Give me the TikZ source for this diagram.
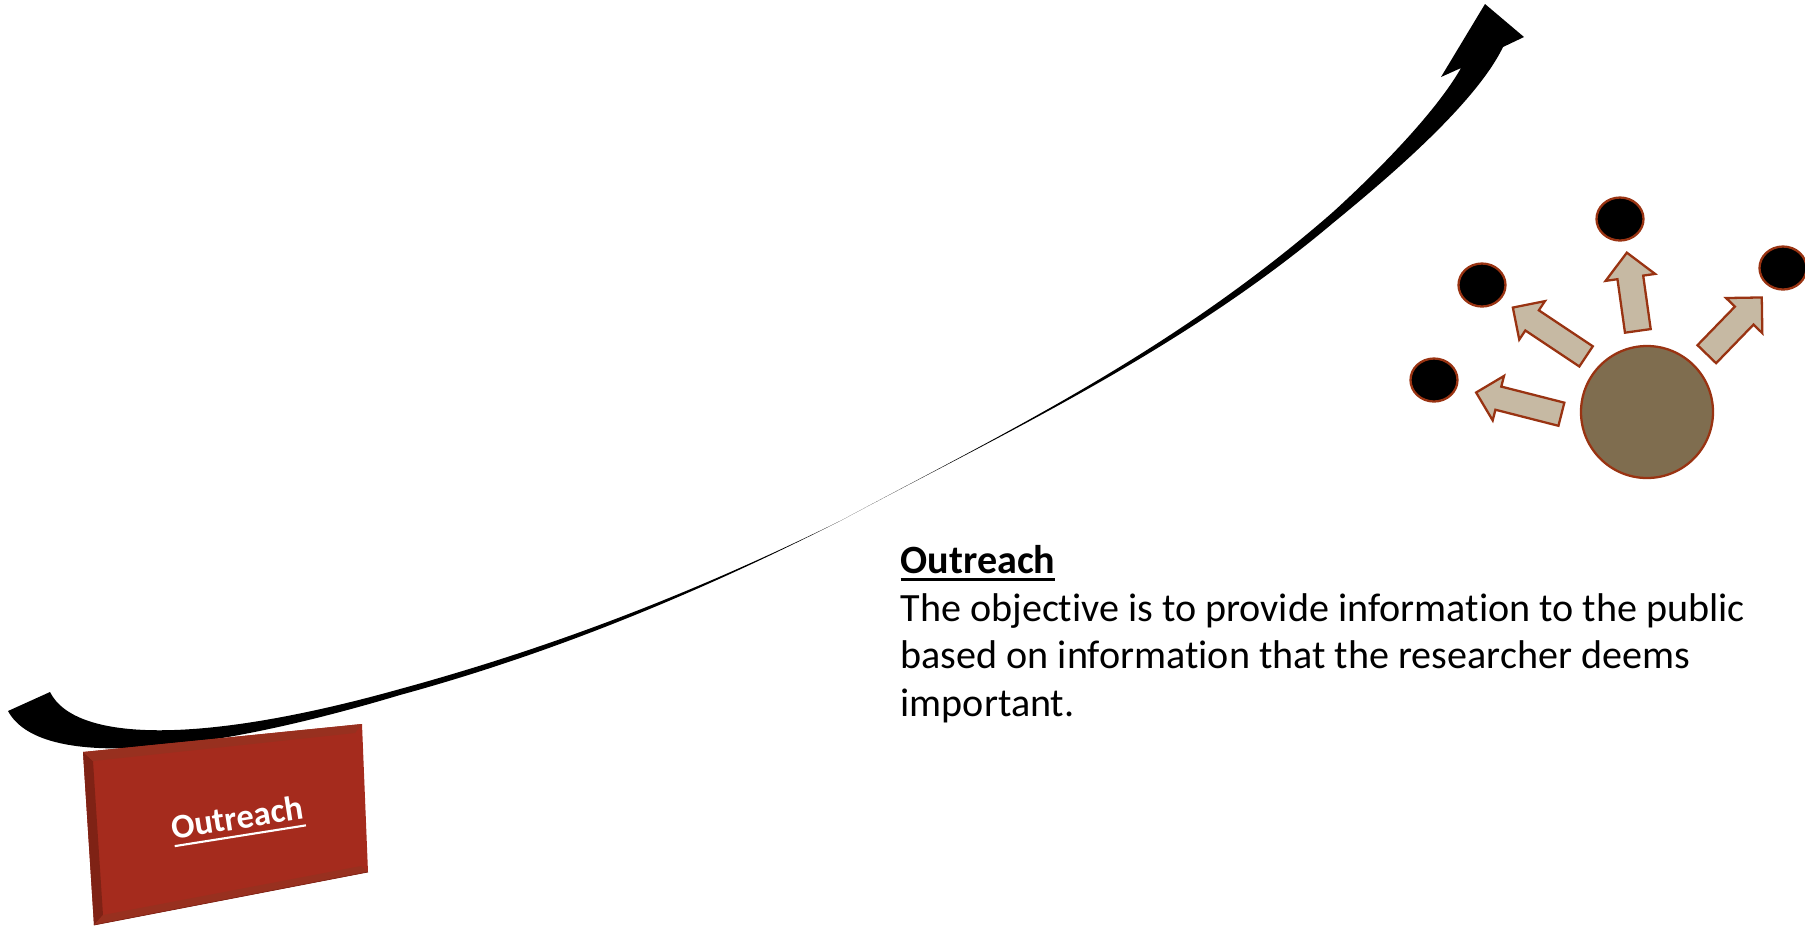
\documentclass[tikz,border=0pt]{standalone}
\usepackage{fontspec}
\setmainfont[Ligatures=NoCommon]{Carlito}
\usepackage{xcolor}
\usetikzlibrary{shapes.geometric, shapes.arrows}

\definecolor{brickred}{HTML}{A52B1D}
\definecolor{brickdark}{HTML}{7F2215}
\definecolor{brickmid}{HTML}{98301F}
\definecolor{rimred}{HTML}{993312}
\definecolor{hubbrown}{HTML}{7F6D4F}
\definecolor{spoketan}{HTML}{C6B9A3}

% word with a rule under it: depth, thickness, word
\newcommand{\ruledword}[3]{\setbox0\hbox{#3}\rlap{\vrule width\wd0 height\dimexpr#2-#1\relax depth #1}\box0}

\tikzset{
    dot/.style={ellipse, draw=rimred, fill=black, line width=0.65pt, inner sep=0pt, minimum width=47*0.01cm, minimum height=43*0.01cm},
    hub/.style={circle, draw=rimred, fill=hubbrown, line width=0.65pt, inner sep=0pt, minimum size=132*0.01cm},
    spoke/.style={single arrow, draw=rimred, fill=spoketan, line width=0.65pt, inner xsep=0pt, anchor=tail, single arrow tip angle=90},
}

\begin{document}
\begin{tikzpicture}[x=0.01cm, y=-0.01cm]
    \useasboundingbox (0,0) rectangle (1805,926);

    %% Swoosh
    \fill[black] (50,692) .. controls (75,742) and (200,745) .. (400,689)
        .. controls (550,648) and (692,594) .. (842,520)
        .. controls (1002,434) and (1173,352) .. (1333,212)
        .. controls (1378,171) and (1436,112) .. (1461,68)
        -- (1441,77) -- (1485,4) -- (1524,37) -- (1503,47)
        .. controls (1475,105) and (1383,182) .. (1333,223)
        .. controls (1180,352) and (1002,434) .. (842,520)
        .. controls (692,596) and (550,654) .. (400,695)
        .. controls (200,755) and (40,770) .. (8,711) -- cycle;

    %% Plate
    \coordinate (pa) at (83,752); \coordinate (pb) at (362,724);
    \coordinate (pc) at (368,872); \coordinate (pd) at (94,925);
    \coordinate (qa) at (93,761); \coordinate (qb) at (355,733);
    \coordinate (qc) at (361,866); \coordinate (qd) at (103,915);
    \fill[brickred] (pa) -- (pb) -- (pc) -- (pd) -- cycle;
    \fill[brickdark] (pa) -- (qa) -- (qd) -- (pd) -- cycle;
    \fill[brickmid] (pa) -- (pb) -- (qb) -- (qa) -- cycle;
    \fill[brickmid] (pd) -- (qd) -- (qc) -- (pc) -- cycle;
    \draw[brickdark, very thin] (pd) -- (pc);
    \node (plate) at (238,821) [rotate=9, text=white, font=\fontsize{9.8}{12}\selectfont\bfseries]
    {\ruledword{2.2pt}{0.6pt}{Outreach}};

    %% Hub and spokes
    \node[hub] (centre) at (1647,412) {};
    \foreach \name/\x/\y in {top/1620/219, upper/1482/285, lower/1434/380, right/1783/268}
    \node[dot] (dot\name) at (\x,\y) {};
    \foreach \name/\x/\y/\ang/\len/\shaft/\ext in {
            top/1638/332/98/79/11.85/12,
            upper/1587/357/146.3/88/11/11,
            lower/1562.5/414.5/165.7/88/10.8/11,
            right/1706/355/45.9/79/11.8/12.3}
    \node[spoke, rotate=\ang, minimum height=\len*0.01cm, inner ysep=\shaft*0.01cm, single arrow head extend=\ext*0.01cm] (spoke\name) at (\x,\y) {};

    % Caption
    \node (caption) at (900,545) [anchor=north west, align=left, inner sep=0pt, font=\fontsize{11.4}{13.5}\selectfont]
    {\textbf{\ruledword{2.1pt}{0.95pt}{Outreach}}\\The objective is to provide information to the public\\based on information that the researcher deems\\important.};

\end{tikzpicture}
\end{document}
